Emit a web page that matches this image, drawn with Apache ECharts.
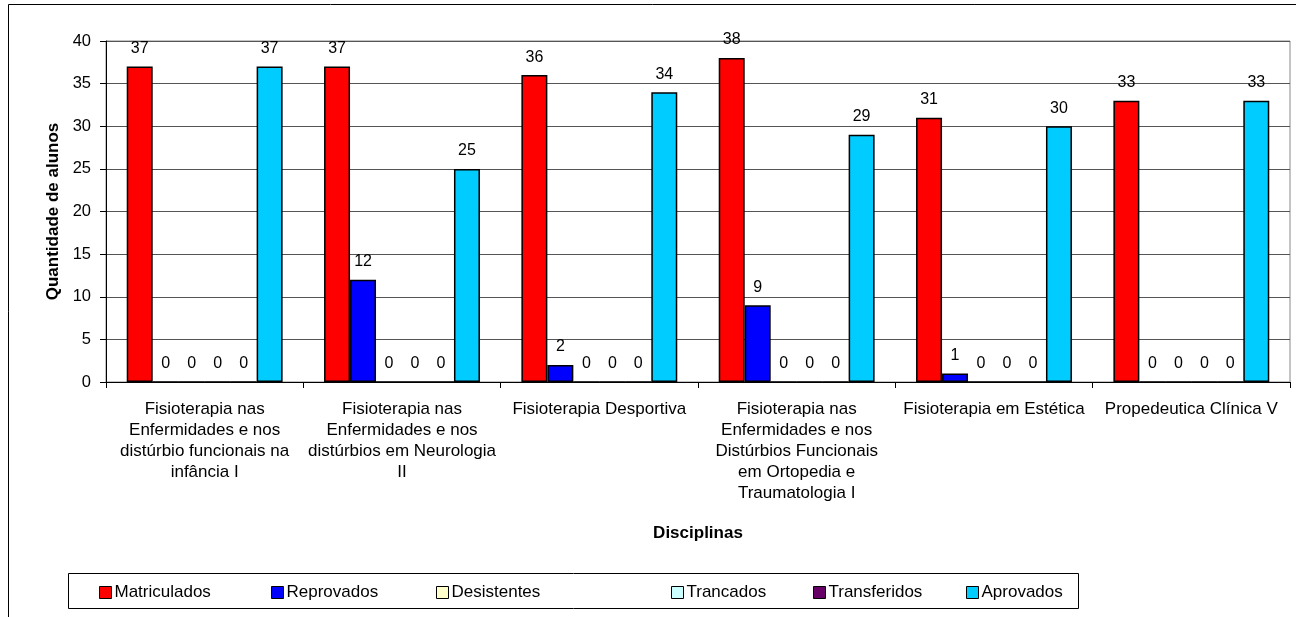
<!DOCTYPE html>
<html>
<head>
<meta charset="utf-8">
<script src="https://cdn.jsdelivr.net/npm/echarts@6/dist/echarts.min.js"></script>
<style>
html,body{margin:0;padding:0;background:#fff;}
#chart{width:1296px;height:617px;}
</style>
</head>
<body>
<div id="chart"></div>
<script>
const categories = [
  'Fisioterapia nas\nEnfermidades e nos\ndistúrbio funcionais na\ninfância I',
  'Fisioterapia nas\nEnfermidades e nos\ndistúrbios em Neurologia\nII',
  'Fisioterapia Desportiva',
  'Fisioterapia nas\nEnfermidades e nos\nDistúrbios Funcionais\nem Ortopedia e\nTraumatologia I',
  'Fisioterapia em Estética',
  'Propedeutica Clínica V'
];
const seriesNames = ['Matriculados', 'Reprovados', 'Desistentes', 'Trancados', 'Transferidos', 'Aprovados'];
const matriculados = [37, 37, 36, 38, 31, 33];
const reprovados   = [0, 12, 2, 9, 1, 0];
const desistentes  = [0, 0, 0, 0, 0, 0];
const trancados    = [0, 0, 0, 0, 0, 0];
const transferidos = [0, 0, 0, 0, 0, 0];
const aprovados    = [37, 25, 34, 29, 30, 33];
const yTicks = { min: 0, max: 40, interval: 5 };

const seriesData = [matriculados, reprovados, desistentes, trancados, transferidos, aprovados];
const colors = ['#FF0000', '#0000FF', '#FFFFCC', '#CCFFFF', '#660066', '#00CCFF'];
const legendX = [99, 271, 436, 671, 813, 966];
const FONT = "'Liberation Sans', Arial, sans-serif";

const chart = echarts.init(document.getElementById('chart'), null, { renderer: 'canvas' });

const option = {
  animation: false,
  backgroundColor: '#fff',
  textStyle: { fontFamily: FONT, color: '#000' },
  graphic: [
    { type: 'rect', silent: true, z: -10,
      shape: { x: 8.5, y: 4.5, width: 1400, height: 700 },
      style: { fill: null, stroke: '#000', lineWidth: 1 } },
    { type: 'rect', silent: true, z: -10,
      shape: { x: 68.5, y: 573.5, width: 1010, height: 35 },
      style: { fill: '#fff', stroke: '#000', lineWidth: 1 } }
  ],
  legend: seriesNames.map((n, i) => ({
    data: [n],
    left: legendX[i],
    top: 584,
    padding: 0,
    itemWidth: 12,
    itemHeight: 12,
    itemGap: 0,
    icon: 'rect',
    selectedMode: false,
    textStyle: { fontFamily: FONT, fontSize: 17, color: '#000', padding: [0, 0, 0, -2] },
    itemStyle: { borderColor: '#000', borderWidth: 1 }
  })),
  grid: {
    left: 106, right: 6, top: 41, bottom: 235,
    show: true, borderColor: '#888', borderWidth: 1, backgroundColor: 'transparent'
  },
  xAxis: {
    type: 'category',
    data: categories,
    name: 'Disciplinas',
    nameLocation: 'middle',
    nameGap: 143,
    nameTextStyle: { fontFamily: FONT, fontSize: 17, fontWeight: 'bold', color: '#000' },
    axisLine: { lineStyle: { color: '#000', width: 1 } },
    axisTick: { show: true, length: 6, lineStyle: { color: '#000' } },
    axisLabel: {
      interval: 0, margin: 17, fontFamily: FONT, fontSize: 17, lineHeight: 21, color: '#000', align: 'center'
    }
  },
  yAxis: {
    type: 'value',
    min: yTicks.min, max: yTicks.max, interval: yTicks.interval,
    name: 'Quantidade de alunos',
    nameLocation: 'middle',
    nameGap: 44,
    nameTextStyle: { fontFamily: FONT, fontSize: 17, fontWeight: 'bold', color: '#000' },
    axisLine: { show: true, lineStyle: { color: '#000', width: 1 } },
    axisTick: { show: true, length: 6, lineStyle: { color: '#000' } },
    axisLabel: { margin: 15, fontFamily: FONT, fontSize: 16.5, color: '#000' },
    splitLine: { show: true, lineStyle: { color: '#555', width: 1 } }
  },
  series: seriesNames.map((n, i) => ({
    name: n,
    type: 'bar',
    data: seriesData[i],
    barGap: '0%',
    barCategoryGap: '21%',
    itemStyle: { color: colors[i], borderColor: '#000', borderWidth: 1.5 },
    label: {
      show: true, position: 'top', distance: 10,
      fontFamily: FONT, fontSize: 16, color: '#000'
    }
  }))
};
chart.setOption(option);
</script>
</body>
</html>
